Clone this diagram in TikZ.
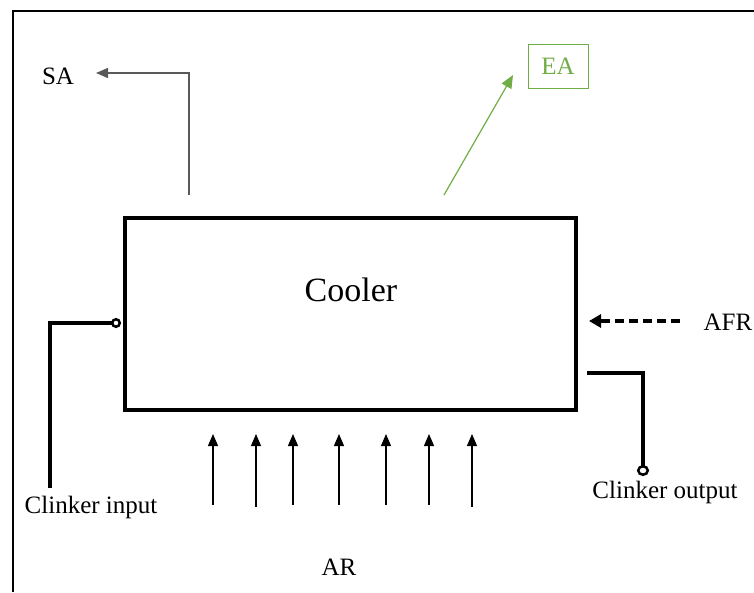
\documentclass[tikz,border=0pt]{standalone}
\usepackage{fontspec}
\setmainfont{Liberation Serif}
\newfontfamily\tnr{Liberation Serif}
\usetikzlibrary{arrows.meta}
\definecolor{eagreen}{RGB}{112,173,71}
\begin{document}
\begin{tikzpicture}[x=1pt,y=-1pt,
  lbl/.style={inner sep=0pt,font=\tnr\fontsize{25}{30}\selectfont},
  thinarrow/.style={line width=1.2pt,-{Triangle[length=12pt,width=10pt]}},
  clk/.style={line width=3.2pt},
  frame/.style={line width=2pt}]
\useasboundingbox (0,0) rectangle (754,592);
\draw[frame] (13,592) -- (13,11) -- (754,11);
% cooler
\node[draw,line width=4.5pt,minimum width=451pt,minimum height=192pt,inner sep=0pt] (cooler) at (350.5,314) {};
\node[inner sep=0pt,font=\tnr\fontsize{34}{40}\selectfont] (coolerlabel) at (351,290) {Cooler};
% SA
\node[lbl] (SA) at (58,76) {SA};
\coordinate (sastart) at (189,195);
\coordinate (saend) at (96,73);
\draw[line width=1.4pt,gray!70!black,-{Triangle[length=12pt,width=10pt]}] (sastart) |- (saend);
% EA
\node[draw=eagreen,line width=0.8pt,text=eagreen,minimum width=60pt,minimum height=44pt,font=\tnr\fontsize{25}{30}\selectfont] (EA) at (558,66) {EA};
\coordinate (eastart) at (444,195);
\coordinate (eaend) at (513,75);
\draw[line width=1.2pt,eagreen,-{Triangle[length=13pt,width=11pt]}] (eastart) -- (eaend);
% clinker input
\node[lbl] (cin) at (91,507) {Clinker input};
\coordinate (cinstart) at (50,488);
\coordinate (cinend) at (121,323);
\draw[clk,-{Circle[open,length=10pt,width=10pt,line width=2.5pt]}] (cinstart) |- (cinend);
% clinker output
\node[lbl] (cout) at (665,492) {Clinker output};
\coordinate (coutstart) at (587,373);
\coordinate (coutend) at (643,476);
\draw[clk,-{Circle[open,length=11pt,width=12pt,line width=2.5pt]}] (coutstart) -| (coutend);
% AFR
\node[lbl] (AFR) at (728,322) {AFR};
\coordinate (afrstart) at (680,321);
\coordinate (afrend) at (589,321);
\draw[line width=3.2pt,dash pattern=on 9pt off 5pt,-{Triangle[length=12pt,width=13pt]}] (afrstart) -- (afrend);
% AR
\node[lbl] (AR) at (339,567) {AR};
\foreach \i/\x/\b in {1/213/505,2/256/507,3/293/505,4/339/505,5/386/505,6/429/505,7/472/507}{
  \coordinate (ar\i s) at (\x,\b);
  \coordinate (ar\i e) at (\x,434);
  \draw[thinarrow] (ar\i s) -- (ar\i e);
}
\end{tikzpicture}
\end{document}
